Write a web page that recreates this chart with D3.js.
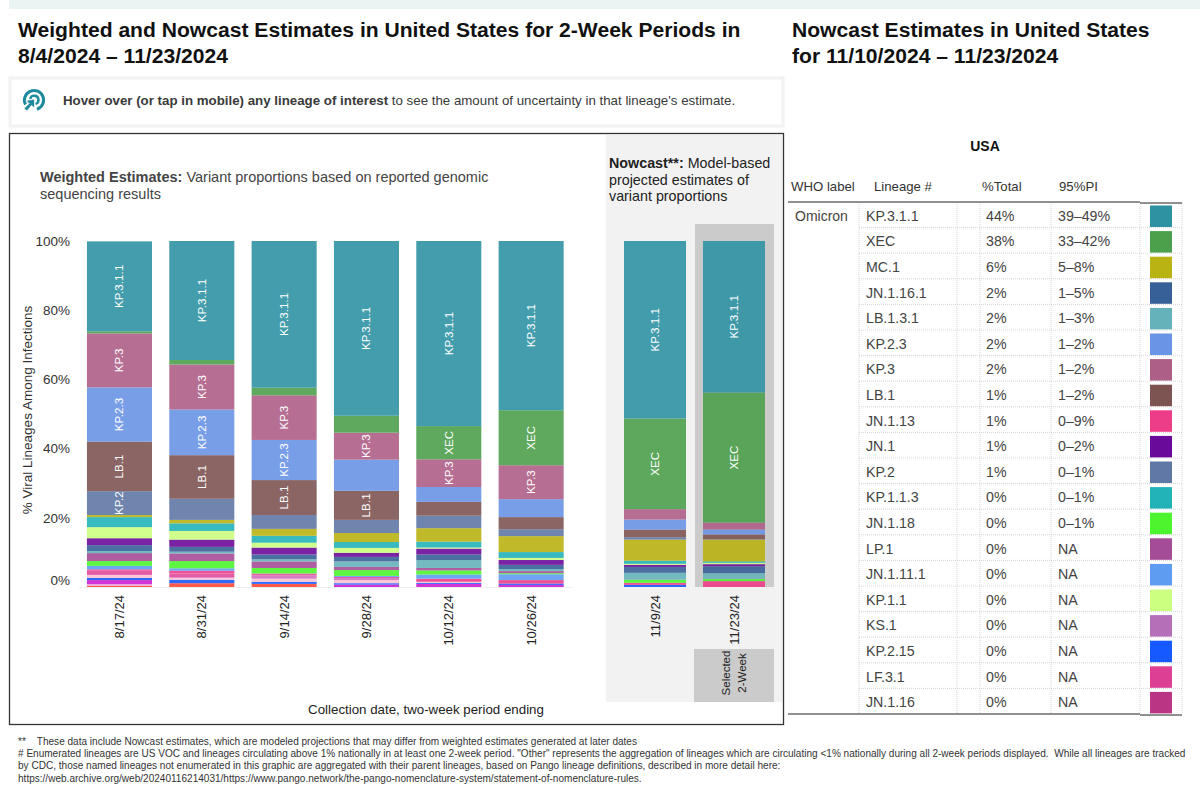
<!DOCTYPE html>
<html>
<head>
<meta charset="utf-8">
<script src="https://cdn.jsdelivr.net/npm/d3@7"></script>
<style>
  html, body { margin: 0; padding: 0; background: #fff; overflow: hidden; }
  svg { display: block; font-family: "Liberation Sans", Arial, sans-serif; }
</style>
</head>
<body>
<svg id="chart" width="1200" height="801"></svg>
<script>
// two-week periods
const weightedDates = ["8/17/24", "8/31/24", "9/14/24", "9/28/24", "10/12/24", "10/26/24"];
const nowcastDates = ["11/9/24", "11/23/24"];
const allDates = weightedDates.concat(nowcastDates);
const yTicks = [0, 20, 40, 60, 80, 100];

// percent of infections, one value per period
const kp311 = [26.0, 34.4, 42.4, 50.5, 53.5, 48.9, 51.3, 43.8];
const xec = [0.6, 1.3, 2.2, 4.9, 9.6, 15.9, 26.2, 37.6];
const kp3 = [15.6, 13.0, 12.9, 7.8, 8.0, 9.8, 3.0, 2.0];
const kp23 = [15.7, 13.2, 11.6, 9.0, 4.3, 5.2, 2.9, 1.4];
const lb1 = [14.3, 12.6, 10.1, 8.4, 4.0, 3.5, 2.2, 1.4];
const kp2 = [6.9, 6.1, 4.0, 3.8, 3.6, 2.0, 0.7, 0.1];
const mc1 = [0.6, 1.0, 2.0, 2.6, 3.9, 4.6, 6.1, 6.3];
const kp113 = [2.9, 2.2, 2.0, 1.7, 1.7, 1.7, 0.9, 0.4];
const kp11 = [3.2, 2.5, 1.4, 1.4, 0.3, 0.6, 0.3, 0.4];
const jn1 = [2.0, 2.1, 2.0, 1.2, 1.7, 1.4, 0.6, 0.6];
const jn1161 = [1.7, 1.4, 1.4, 1.3, 1.6, 1.2, 1.7, 2.0];
const lb131 = [0.6, 0.5, 0.6, 1.6, 2.3, 0.6, 2.0, 1.6];
const lp1 = [2.3, 2.2, 1.9, 0.9, 0.7, 0.6, 0, 0.1];
const jn118 = [1.4, 2.1, 1.6, 1.7, 1.2, 0.3, 0.9, 0.6];
const jn1111 = [1.0, 0.7, 0, 0.3, 1.2, 1.7, 0, 0];
const jn113 = [0.4, 0.8, 0, 0, 0.9, 1.0, 0.6, 1.7];
const lf31 = [1.2, 1.2, 0.6, 0.3, 0, 0, 0, 0];
const ks1 = [0, 0, 0.9, 0.6, 0, 0, 0, 0];
const otherPink = [0.9, 0.6, 0.9, 0.9, 0.3, 0, 0, 0];
const kp215 = [0.6, 1.0, 0.6, 0.4, 0.3, 0.4, 0.6, 0];
const jn116 = [1.2, 0, 0, 0.7, 0.9, 0.6, 0, 0];
const otherRose = [0.4, 0, 0, 0, 0, 0, 0, 0];
const otherRed = [0.4, 1.1, 0.9, 0, 0, 0, 0, 0];

// top of the bar first
const stackNames = ["KP.3.1.1", "XEC", "KP.3", "KP.2.3", "LB.1", "KP.2", "MC.1", "KP.1.1.3", "KP.1.1", "JN.1",
  "JN.1.16.1", "LB.1.3.1", "LP.1", "JN.1.18", "JN.1.11.1", "JN.1.13", "LF.3.1", "KS.1", "Other pink", "KP.2.15",
  "JN.1.16", "Other rose", "Other red"];
const stackValues = [kp311, xec, kp3, kp23, lb1, kp2, mc1, kp113, kp11, jn1,
  jn1161, lb131, lp1, jn118, jn1111, jn113, lf31, ks1, otherPink, kp215,
  jn116, otherRose, otherRed];

// table
const tableLineages = ["KP.3.1.1", "XEC", "MC.1", "JN.1.16.1", "LB.1.3.1", "KP.2.3", "KP.3", "LB.1", "JN.1.13", "JN.1",
  "KP.2", "KP.1.1.3", "JN.1.18", "LP.1", "JN.1.11.1", "KP.1.1", "KS.1", "KP.2.15", "LF.3.1", "JN.1.16"];
const tableTotals = ["44%", "38%", "6%", "2%", "2%", "2%", "2%", "1%", "1%", "1%",
  "1%", "0%", "0%", "0%", "0%", "0%", "0%", "0%", "0%", "0%"];
const tablePI = ["39–49%", "33–42%", "5–8%", "1–5%", "1–3%", "1–2%", "1–2%", "1–2%", "0–9%", "0–2%",
  "0–1%", "0–1%", "0–1%", "NA", "NA", "NA", "NA", "NA", "NA", "NA"];
const tableColors = ["#2f92a3", "#4ca04c", "#b9b313", "#386098", "#66b2ba", "#6a94e6", "#ae5f87", "#7d5452", "#ee3d88", "#6a0a9a",
  "#5f78a5", "#22b3b8", "#4df52e", "#a54c97", "#5e9cf2", "#ccff80", "#b46fb8", "#1659ff", "#dd3f94", "#bb3585"];

// lineages drawn but not listed in the table
const extraNames = ["Other pink", "Other rose", "Other red"];
const extraColors = ["#ffc2d4", "#f6a8e0", "#ff4a38"];
// jn116 reads as a brighter magenta in the bars than in the table swatch
const barColorOverrides = { "JN.1.16": "#cc1fd0", "KS.1": "#d070c0", "LF.3.1": "#e04a9c" };

// which lineages carry a label inside each bar
const barLabels = [
  ["KP.3.1.1", "KP.3", "KP.2.3", "LB.1", "KP.2"],
  ["KP.3.1.1", "KP.3", "KP.2.3", "LB.1"],
  ["KP.3.1.1", "KP.3", "KP.2.3", "LB.1"],
  ["KP.3.1.1", "KP.3", "LB.1"],
  ["KP.3.1.1", "XEC", "KP.3"],
  ["KP.3.1.1", "XEC", "KP.3"],
  ["KP.3.1.1", "XEC"],
  ["KP.3.1.1", "XEC"]
];

const footnotes = [
  "**    These data include Nowcast estimates, which are modeled projections that may differ from weighted estimates generated at later dates",
  "# Enumerated lineages are US VOC and lineages circulating above 1% nationally in at least one 2-week period. \"Other\" represents the aggregation of lineages which are circulating <1% nationally during all 2-week periods displayed.  While all lineages are tracked",
  "by CDC, those named lineages not enumerated in this graphic are aggregated with their parent lineages, based on Pango lineage definitions, described in more detail here:",
  "https://web.archive.org/web/20240116214031/https://www.pango.network/the-pango-nomenclature-system/statement-of-nomenclature-rules."
];

const svg = d3.select("#chart");

const colorScale = d3.scaleOrdinal()
  .domain(tableLineages.concat(extraNames))
  .range(tableColors.concat(extraColors));
function barColor(name) { return barColorOverrides[name] || colorScale(name); }

function addText(x, y, parts, size, fill, anchor) {
  const t = svg.append("text").attr("x", x).attr("y", y)
    .attr("font-size", size).attr("fill", fill).attr("text-anchor", anchor || "start");
  parts.forEach(function(p) {
    t.append("tspan").attr("font-weight", p[1] ? "bold" : "normal").text(p[0]);
  });
  return t;
}

// header strip, titles
svg.append("rect").attr("x", 9).attr("y", 0).attr("width", 1191).attr("height", 9).attr("fill", "#eaf5f3");
addText(18, 37, [["Weighted and Nowcast Estimates in United States for 2-Week Periods in", 1]], 21.1, "#111");
addText(18, 63, [["8/4/2024 – 11/23/2024", 1]], 21.1, "#111");
addText(792, 37, [["Nowcast Estimates in United States", 1]], 21.1, "#111");
addText(792, 63, [["for 11/10/2024 – 11/23/2024", 1]], 21.1, "#111");

// hover callout
svg.append("rect").attr("x", 10).attr("y", 78).attr("width", 773).attr("height", 48)
  .attr("fill", "#fff").attr("stroke", "#f2f2f2").attr("stroke-width", 3);
const icon = svg.append("g").attr("transform", "translate(34,100)").attr("fill", "none").attr("stroke", "#1e8a9e");
icon.append("path").attr("d", "M-8.5,4.5 A9.6,9.6 0 1,1 3,9.2").attr("stroke-width", 3);
icon.append("path").attr("d", "M-3.8,-1 A4.2,4.2 0 1,1 1.5,3.9").attr("stroke-width", 2.4);
icon.append("path").attr("d", "M0.5,-1 L0.5,8 L-2.5,5.5 L-7,11 L-10,8.5 L-5,3.5 L-8,0.5 Z")
  .attr("fill", "#1e8a9e").attr("stroke", "#fff").attr("stroke-width", 0.8);
addText(63, 105, [["Hover over (or tap in mobile) any lineage of interest", 1], [" to see the amount of uncertainty in that lineage's estimate."]], 13.3, "#3a3a3a");

// frame and nowcast panel
svg.append("rect").attr("x", 9.5).attr("y", 133.5).attr("width", 774).attr("height", 591)
  .attr("fill", "#fff").attr("stroke", "#333").attr("stroke-width", 1.3);
svg.append("rect").attr("x", 606).attr("y", 135).attr("width", 176).attr("height", 567).attr("fill", "#f2f2f2");

addText(40, 182, [["Weighted Estimates:", 1], [" Variant proportions based on reported genomic"]], 14.5, "#444");
addText(40, 199, [["sequencing results"]], 14.5, "#444");
addText(609, 168, [["Nowcast**:", 1], [" Model-based"]], 14.3, "#222");
addText(609, 185, [["projected estimates of"]], 14.3, "#222");
addText(609, 201, [["variant proportions"]], 14.3, "#222");

// selected period highlight
svg.append("rect").attr("x", 695).attr("y", 224).attr("width", 79).attr("height", 363).attr("fill", "#cbcbcb");
svg.append("rect").attr("x", 694).attr("y", 649).attr("width", 80).attr("height", 53).attr("fill", "#cbcbcb");
["Selected", "2-Week"].forEach(function(s, i) {
  svg.append("text").attr("transform", "translate(" + (730 + i * 16) + ",673) rotate(-90)")
    .attr("text-anchor", "middle").attr("font-size", 11.5).attr("fill", "#222").text(s);
});

// scales
const y = d3.scaleLinear().domain([0, 100]).range([587, 241]);
const xWeighted = d3.scaleBand().domain(weightedDates).range([78.3, 572.3]).paddingInner(0.21).paddingOuter(0.105);
const xNowcast = d3.scaleBand().domain(nowcastDates).range([615.5, 773.5]).paddingInner(0.215).paddingOuter(0.1075);
function xFor(d) { return weightedDates.includes(d) ? xWeighted : xNowcast; }

// stack, bottom of the bar first
const rows = allDates.map(function(d, i) {
  const row = { date: d };
  stackNames.forEach(function(n, j) { row[n] = stackValues[j][i]; });
  return row;
});
const series = d3.stack().keys(stackNames.slice().reverse())(rows);

const bars = svg.append("g");
series.forEach(function(s) {
  bars.selectAll(null)
    .data(s.filter(function(p) { return p[1] > p[0]; }))
    .enter().append("rect")
      .attr("x", function(p) { return xFor(p.data.date)(p.data.date); })
      .attr("width", function(p) { return xFor(p.data.date).bandwidth(); })
      .attr("y", function(p) { return y(p[1]); })
      .attr("height", function(p) { return y(p[0]) - y(p[1]); })
      .attr("fill", barColor(s.key))
      .attr("fill-opacity", 0.9);
});

// labels inside bars
series.forEach(function(s) {
  s.forEach(function(p, i) {
    if (!barLabels[i].includes(s.key)) return;
    const cx = xFor(p.data.date)(p.data.date) + xFor(p.data.date).bandwidth() / 2;
    svg.append("text")
      .attr("transform", "translate(" + cx + "," + y((p[0] + p[1]) / 2) + ") rotate(-90)")
      .attr("text-anchor", "middle").attr("dy", "0.35em")
      .attr("font-size", 11.5).attr("letter-spacing", 0.1).attr("fill", "#fff")
      .text(s.key);
  });
});

// axes
const yAxis = svg.append("g").attr("transform", "translate(78,0)")
  .call(d3.axisLeft(y).tickValues(yTicks).tickFormat(function(d) { return d + "%"; }).tickSize(0).tickPadding(8));
yAxis.select(".domain").remove();
yAxis.selectAll("text").attr("font-size", 13.5).attr("font-family", "Liberation Sans").attr("fill", "#333")
  .attr("dy", function(d) { return d === 0 ? "-0.15em" : "0.32em"; });

[[xWeighted], [xNowcast]].forEach(function(a) {
  const g = svg.append("g").attr("transform", "translate(0,587)")
    .call(d3.axisBottom(a[0]).tickSize(0));
  g.select(".domain").attr("stroke", a[0] === xWeighted ? "#eee" : "none");
  g.selectAll("text")
    .attr("transform", "rotate(-90)")
    .attr("text-anchor", "end")
    .attr("x", -8).attr("y", 0).attr("dy", "0.35em")
    .attr("font-size", 13).attr("font-family", "Liberation Sans").attr("fill", "#222");
});

svg.append("text").attr("transform", "translate(32,410) rotate(-90)")
  .attr("text-anchor", "middle").attr("font-size", 13.5).attr("fill", "#333")
  .text("% Viral Lineages Among Infections");
addText(426, 714, [["Collection date, two-week period ending"]], 13.3, "#222", "middle");

// footnotes
footnotes.forEach(function(s, i) {
  addText(18, 744.5 + i * 12.4, [[s]], 10.05, "#333").style("white-space", "pre");
});

// table on the right
const rowScale = d3.scaleBand().domain(tableLineages).range([202, 714]);
const vLines = [859, 957, 980, 1051, 1140, 1182];

addText(985, 151, [["USA", 1]], 14, "#111", "middle");
addText(791, 191, [["WHO label"]], 13.2, "#333");
addText(874, 191, [["Lineage #"]], 13.2, "#333");
addText(982, 191, [["%Total"]], 13.2, "#333");
addText(1059, 191, [["95%PI"]], 13.2, "#333");
addText(795, 221, [["Omicron"]], 14, "#444");

svg.append("g").selectAll("line").data(vLines).enter().append("line")
  .attr("x1", function(d) { return d; }).attr("x2", function(d) { return d; })
  .attr("y1", 202).attr("y2", 714)
  .attr("stroke", "#ccc").attr("stroke-width", 0.8).attr("stroke-dasharray", "1,1");

svg.append("g").selectAll("line").data(tableLineages.slice(1)).enter().append("line")
  .attr("x1", 859).attr("x2", 1182)
  .attr("y1", function(d) { return rowScale(d); }).attr("y2", function(d) { return rowScale(d); })
  .attr("stroke", "#ccc").attr("stroke-width", 0.8).attr("stroke-dasharray", "1,1");

tableLineages.forEach(function(name, i) {
  const cy = rowScale(name) + rowScale.bandwidth() / 2 + 6;
  addText(866, cy, [[name]], 14.2, "#444");
  addText(986, cy, [[tableTotals[i]]], 14.2, "#444");
  addText(1058, cy, [[tablePI[i]]], 14.2, "#444");
  svg.append("rect").attr("x", 1150).attr("y", rowScale(name) + 3.5)
    .attr("width", 22).attr("height", 21.5).attr("fill", tableColors[i]);
});

[[788, 1140, 202], [1140, 1182, 203], [788, 1140, 714], [1140, 1182, 715]].forEach(function(l) {
  svg.append("line").attr("x1", l[0]).attr("x2", l[1]).attr("y1", l[2]).attr("y2", l[2])
    .attr("stroke", "#222").attr("stroke-width", 1.2);
});
</script>
</body>
</html>
